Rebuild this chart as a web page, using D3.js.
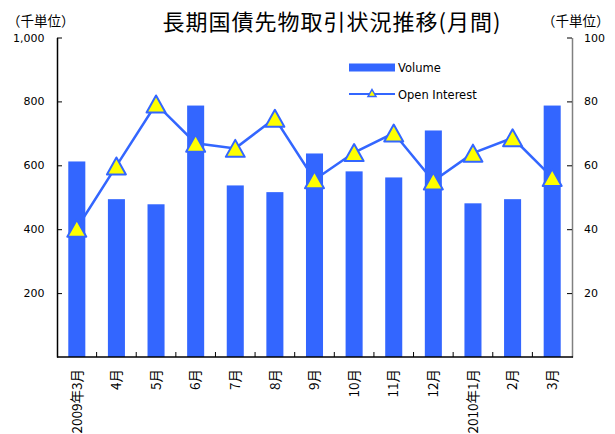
<!DOCTYPE html>
<html><head><meta charset="utf-8">
<script src="https://cdn.jsdelivr.net/npm/d3@7"></script>
<style>body{margin:0;background:#fff}svg{display:block}</style>
</head><body>
<svg id="c" width="615" height="434"></svg>
<script>
const categories = ["2009年3月","4月","5月","6月","7月","8月","9月","10月","11月","12月","2010年1月","2月","3月"];
const volume = [612, 494, 478, 787, 537, 516, 637, 581, 562, 709, 481, 494, 787];
const openInterest = [40.3, 59.8, 79.2, 66.9, 65.3, 74.7, 55.5, 64.0, 70.1, 55.1, 63.8, 68.6, 56.2];
const leftTicks = [200, 400, 600, 800, 1000];
const rightTicks = [20, 40, 60, 80, 100];
const title = "長期国債先物取引状況推移(月間)";
const unitLabel = "（千単位）";
const seriesNames = ["Volume", "Open Interest"];

const blue = "#3366ff", yellow = "#ffff00";
const L = 57, R = 572, T = 37.5, B = 357;
const svg = d3.select("#c");

const x = d3.scaleBand().domain(categories).range([L, R]).paddingInner(0.57).paddingOuter(0.285);
const yL = d3.scaleLinear().domain([0, 1000]).range([B, T]);
const yR = d3.scaleLinear().domain([0, 100]).range([B, T]);

const numFont = "DejaVu Sans, sans-serif";
const jpFont = "'Noto Sans CJK JP', sans-serif";

// bars
svg.append("g").selectAll("rect").data(volume).join("rect")
  .attr("x", (d, i) => x(categories[i]))
  .attr("width", x.bandwidth())
  .attr("y", d => yL(d))
  .attr("height", d => B - yL(d))
  .attr("fill", blue);

// line
const cx = i => x(categories[i]) + x.bandwidth() / 2;
svg.append("path").datum(openInterest)
  .attr("fill", "none").attr("stroke", blue).attr("stroke-width", 2.5)
  .attr("d", d3.line().x((d, i) => cx(i)).y(d => yR(d)));

function tri(w, h) { return `M0,${-h/2}L${w/2},${h/2}L${-w/2},${h/2}Z`; }
svg.append("g").selectAll("path").data(openInterest).join("path")
  .attr("d", tri(19, 17))
  .attr("transform", (d, i) => `translate(${cx(i)},${yR(d)})`)
  .attr("fill", yellow).attr("stroke", blue).attr("stroke-width", 2).attr("stroke-linejoin", "round");

// left axis
const gl = svg.append("g").attr("transform", `translate(${L},0)`)
  .call(d3.axisLeft(yL).tickValues(leftTicks).tickFormat(d3.format(",")).tickSizeInner(-5).tickSizeOuter(0).tickPadding(12.5));
gl.select(".domain").attr("stroke", "#000").attr("stroke-width", 1.5);
gl.selectAll(".tick line").attr("stroke", "#000");
gl.selectAll("text").attr("font-family", numFont).attr("font-size", 11).attr("fill", "#000");

// right axis
const gr = svg.append("g").attr("transform", `translate(${R},0)`)
  .call(d3.axisRight(yR).tickValues(rightTicks).tickSizeInner(-5).tickSizeOuter(0).tickPadding(12));
gr.select(".domain").attr("stroke", "#808080").attr("stroke-width", 1.5);
gr.selectAll(".tick line").attr("stroke", "#000");
gr.selectAll("text").attr("font-family", numFont).attr("font-size", 11).attr("fill", "#000");

// bottom axis
svg.append("line").attr("x1", L).attr("x2", R + 1).attr("y1", B).attr("y2", B).attr("stroke", "#000").attr("stroke-width", 1.5);
svg.append("g").selectAll("line").data(categories.slice(0, -1)).join("line")
  .attr("x1", d => x(d) + x.bandwidth() / 2 + x.step() / 2)
  .attr("x2", d => x(d) + x.bandwidth() / 2 + x.step() / 2)
  .attr("y1", B).attr("y2", B - 5).attr("stroke", "#000");
svg.append("g").selectAll("text").data(categories).join("text")
  .attr("transform", d => `translate(${x(d) + x.bandwidth() / 2},369) rotate(-90)`)
  .attr("text-anchor", "end").attr("dy", "0.35em")
  .attr("font-family", jpFont).attr("font-size", 13.5).attr("fill", "#000")
  .text(d => d);

// title & units
svg.append("text").attr("x", 332).attr("y", 30).attr("text-anchor", "middle")
  .attr("font-family", jpFont).attr("font-size", 22).attr("letter-spacing", 1).attr("fill", "#000").text(title);
svg.append("text").attr("x", 7).attr("y", 26).attr("font-family", jpFont).attr("font-size", 13.5).text(unitLabel);
svg.append("text").attr("x", 542).attr("y", 26).attr("font-family", jpFont).attr("font-size", 13.5).text(unitLabel);

// legend
const lg = svg.append("g");
lg.append("rect").attr("x", 349).attr("y", 63.5).attr("width", 46).attr("height", 8).attr("fill", blue);
lg.append("text").attr("x", 398).attr("y", 71.5).attr("font-family", numFont).attr("font-size", 11.5).text(seriesNames[0]);
lg.append("line").attr("x1", 349).attr("x2", 395).attr("y1", 94).attr("y2", 94).attr("stroke", blue).attr("stroke-width", 2);
lg.append("path").attr("d", tri(8, 7)).attr("transform", "translate(372,93)").attr("fill", yellow).attr("stroke", blue).attr("stroke-width", 1.5);
lg.append("text").attr("x", 398).attr("y", 98.5).attr("font-family", numFont).attr("font-size", 11.5).text(seriesNames[1]);
</script>
</body></html>
